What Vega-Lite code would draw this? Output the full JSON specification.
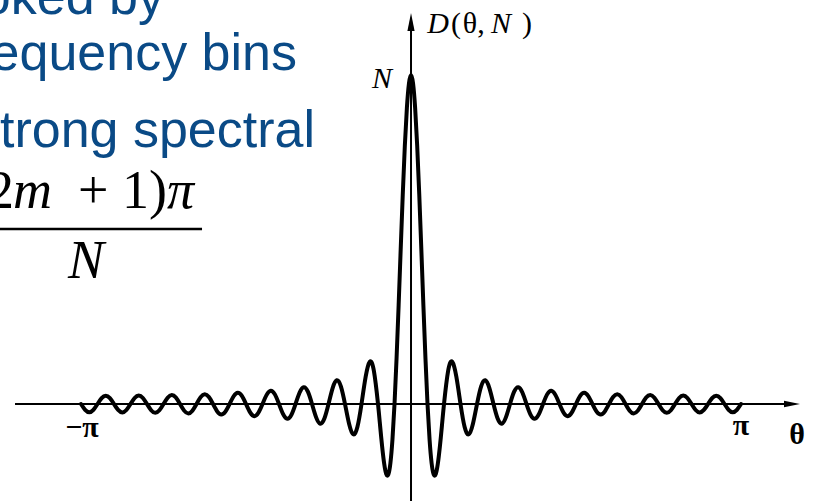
{
"$schema": "https://vega.github.io/schema/vega-lite/v6.json",
"width": 814, "height": 501,
"autosize": {"type": "none"},
"padding": 0,
"background": "white",
"config": {"view": {"stroke": null}},
"datasets": {
"curve": [
{"t":-1,"v":0},{"t":-0.9875,"v":-0.707},{"t":-0.975,"v":-1.001},{"t":-0.9625,"v":-0.708},{"t":-0.95,"v":0},{"t":-0.9375,"v":0.711},{"t":-0.925,"v":1.007},{"t":-0.9125,"v":0.714},
{"t":-0.9,"v":0},{"t":-0.8875,"v":-0.718},{"t":-0.875,"v":-1.02},{"t":-0.8625,"v":-0.724},{"t":-0.85,"v":0},{"t":-0.8375,"v":0.731},{"t":-0.825,"v":1.039},{"t":-0.8125,"v":0.739},
{"t":-0.8,"v":0},{"t":-0.7875,"v":-0.748},{"t":-0.775,"v":-1.066},{"t":-0.7625,"v":-0.759},{"t":-0.75,"v":0},{"t":-0.7375,"v":0.772},{"t":-0.725,"v":1.101},{"t":-0.7125,"v":0.786},
{"t":-0.7,"v":0},{"t":-0.6875,"v":-0.802},{"t":-0.675,"v":-1.146},{"t":-0.6625,"v":-0.82},{"t":-0.65,"v":0},{"t":-0.6375,"v":0.84},{"t":-0.625,"v":1.203},{"t":-0.6125,"v":0.862},
{"t":-0.6,"v":0},{"t":-0.5875,"v":-0.887},{"t":-0.575,"v":-1.273},{"t":-0.5625,"v":-0.915},{"t":-0.55,"v":0},{"t":-0.5375,"v":0.946},{"t":-0.525,"v":1.362},{"t":-0.5125,"v":0.981},
{"t":-0.5,"v":0},{"t":-0.4875,"v":-1.02},{"t":-0.475,"v":-1.473},{"t":-0.4625,"v":-1.065},{"t":-0.45,"v":0},{"t":-0.4375,"v":1.115},{"t":-0.425,"v":1.615},{"t":-0.4125,"v":1.172},
{"t":-0.4,"v":0},{"t":-0.3875,"v":-1.237},{"t":-0.375,"v":-1.8},{"t":-0.3625,"v":-1.312},{"t":-0.35,"v":0},{"t":-0.3375,"v":1.398},{"t":-0.325,"v":2.047},{"t":-0.3125,"v":1.5},
{"t":-0.3,"v":0},{"t":-0.2875,"v":-1.62},{"t":-0.275,"v":-2.389},{"t":-0.2625,"v":-1.764},{"t":-0.25,"v":0},{"t":-0.2375,"v":1.94},{"t":-0.225,"v":2.889},{"t":-0.2125,"v":2.158},
{"t":-0.2,"v":0},{"t":-0.1875,"v":-2.436},{"t":-0.175,"v":-3.684},{"t":-0.1625,"v":-2.8},{"t":-0.15,"v":0},{"t":-0.1375,"v":3.299},{"t":-0.125,"v":5.126},{"t":-0.1125,"v":4.022},
{"t":-0.1,"v":0},{"t":-0.09375,"v":-2.608},{"t":-0.0875,"v":-5.161},{"t":-0.08125,"v":-7.259},{"t":-0.075,"v":-8.508},{"t":-0.06875,"v":-8.572},{"t":-0.0625,"v":-7.214},{"t":-0.05625,"v":-4.337},
{"t":-0.05,"v":0},{"t":-0.04375,"v":5.573},{"t":-0.0375,"v":12.01},{"t":-0.03125,"v":18.83},{"t":-0.025,"v":25.47},{"t":-0.01875,"v":31.37},{"t":-0.0125,"v":36.01},{"t":-0.00625,"v":38.98},
{"t":0,"v":40},
{"t":0.00625,"v":38.98},{"t":0.0125,"v":36.01},{"t":0.01875,"v":31.37},{"t":0.025,"v":25.47},{"t":0.03125,"v":18.83},{"t":0.0375,"v":12.01},{"t":0.04375,"v":5.573},{"t":0.05,"v":0},
{"t":0.05625,"v":-4.337},{"t":0.0625,"v":-7.214},{"t":0.06875,"v":-8.572},{"t":0.075,"v":-8.508},{"t":0.08125,"v":-7.259},{"t":0.0875,"v":-5.161},{"t":0.09375,"v":-2.608},{"t":0.1,"v":0},
{"t":0.1125,"v":4.022},{"t":0.125,"v":5.126},{"t":0.1375,"v":3.299},{"t":0.15,"v":0},{"t":0.1625,"v":-2.8},{"t":0.175,"v":-3.684},{"t":0.1875,"v":-2.436},{"t":0.2,"v":0},
{"t":0.2125,"v":2.158},{"t":0.225,"v":2.889},{"t":0.2375,"v":1.94},{"t":0.25,"v":0},{"t":0.2625,"v":-1.764},{"t":0.275,"v":-2.389},{"t":0.2875,"v":-1.62},{"t":0.3,"v":0},
{"t":0.3125,"v":1.5},{"t":0.325,"v":2.047},{"t":0.3375,"v":1.398},{"t":0.35,"v":0},{"t":0.3625,"v":-1.312},{"t":0.375,"v":-1.8},{"t":0.3875,"v":-1.237},{"t":0.4,"v":0},
{"t":0.4125,"v":1.172},{"t":0.425,"v":1.615},{"t":0.4375,"v":1.115},{"t":0.45,"v":0},{"t":0.4625,"v":-1.065},{"t":0.475,"v":-1.473},{"t":0.4875,"v":-1.02},{"t":0.5,"v":0},
{"t":0.5125,"v":0.981},{"t":0.525,"v":1.362},{"t":0.5375,"v":0.946},{"t":0.55,"v":0},{"t":0.5625,"v":-0.915},{"t":0.575,"v":-1.273},{"t":0.5875,"v":-0.887},{"t":0.6,"v":0},
{"t":0.6125,"v":0.862},{"t":0.625,"v":1.203},{"t":0.6375,"v":0.84},{"t":0.65,"v":0},{"t":0.6625,"v":-0.82},{"t":0.675,"v":-1.146},{"t":0.6875,"v":-0.802},{"t":0.7,"v":0},
{"t":0.7125,"v":0.786},{"t":0.725,"v":1.101},{"t":0.7375,"v":0.772},{"t":0.75,"v":0},{"t":0.7625,"v":-0.759},{"t":0.775,"v":-1.066},{"t":0.7875,"v":-0.748},{"t":0.8,"v":0},
{"t":0.8125,"v":0.739},{"t":0.825,"v":1.039},{"t":0.8375,"v":0.731},{"t":0.85,"v":0},{"t":0.8625,"v":-0.724},{"t":0.875,"v":-1.02},{"t":0.8875,"v":-0.718},{"t":0.9,"v":0},
{"t":0.9125,"v":0.714},{"t":0.925,"v":1.007},{"t":0.9375,"v":0.711},{"t":0.95,"v":0},{"t":0.9625,"v":-0.708},{"t":0.975,"v":-1.001},{"t":0.9875,"v":-0.707},{"t":1,"v":0}
],
"haxis": [{"t":-1.2,"t2":1.16,"v":0}],
"vaxis": [{"t":0,"v":-11.79,"v2":46.2}],
"arrowRight": [{"t":1.1545,"v":0}],
"arrowUp": [{"t":0,"v":46.44}],
"fracbar": [{"t":-1.3,"t2":-0.6333,"v":21.28}],
"blue": [
{"t":-0.7485,"v":47.42,"label":"oked by"},
{"t":-0.3455,"v":40.61,"label":"frequency bins"},
{"t":-0.2909,"v":31.25,"label":"strong spectral"}
],
"formulaUp": [
{"t":-1.203,"v":23.83,"label":"(2"},
{"t":-0.7394,"v":23.83,"label":"+ 1)"}
],
"formulaIt": [
{"t":-1.0879,"v":23.83,"label":"m"},
{"t":-0.6576,"v":23.83,"label":"π"},
{"t":-0.9303,"v":15.32,"label":"N"}
],
"axisBold": [
{"t":-0.997,"v":-4.01,"label":"−π"},
{"t":1.0,"v":-3.77,"label":"π"},
{"t":1.1697,"v":-4.86,"label":"θ"}
],
"labIt": [
{"t":-0.0879,"v":38.42,"label":"N"},
{"t":0.0818,"v":45.11,"label":"D"},
{"t":0.2727,"v":45.11,"label":"N"}
],
"labUp": [
{"t":0.1364,"v":45.11,"label":"("},
{"t":0.1788,"v":45.11,"label":"θ"},
{"t":0.2121,"v":45.11,"label":","},
{"t":0.3515,"v":45.11,"label":")"}
]
},
"encoding": {
"x": {"field": "t", "type": "quantitative", "scale": {"domain": [-1.2455, 1.2212], "nice": false, "zero": false}, "axis": null},
"y": {"field": "v", "type": "quantitative", "scale": {"domain": [-11.79, 49.12], "nice": false, "zero": false}, "axis": null}
},
"layer": [
{"data": {"name": "haxis"}, "mark": {"type": "rule", "color": "black", "strokeWidth": 2, "clip": true}, "encoding": {"x2": {"field": "t2"}}},
{"data": {"name": "vaxis"}, "mark": {"type": "rule", "color": "black", "strokeWidth": 2, "clip": true}, "encoding": {"y2": {"field": "v2"}}},
{"data": {"name": "arrowRight"}, "mark": {"type": "point", "shape": "M1,0L-1,-0.4L-1,0.4Z", "size": 256, "filled": true, "color": "black", "opacity": 1, "strokeWidth": 0}},
{"data": {"name": "arrowUp"}, "mark": {"type": "point", "shape": "M0,-1L0.4,1L-0.4,1Z", "size": 324, "filled": true, "color": "black", "opacity": 1, "strokeWidth": 0}},
{"data": {"name": "curve"}, "mark": {"type": "line", "color": "black", "strokeWidth": 4, "interpolate": "natural", "strokeJoin": "round", "strokeCap": "round", "clip": true}},
{"data": {"name": "fracbar"}, "mark": {"type": "rule", "color": "black", "strokeWidth": 2.5, "clip": true}, "encoding": {"x2": {"field": "t2"}}},
{"data": {"name": "blue"}, "mark": {"type": "text", "font": "Liberation Sans", "fontSize": 52, "color": "#0A4A86", "align": "right", "baseline": "alphabetic", "clip": true}, "encoding": {"text": {"field": "label"}}},
{"data": {"name": "formulaUp"}, "mark": {"type": "text", "font": "Liberation Serif", "fontSize": 54, "color": "black", "align": "right", "baseline": "alphabetic", "clip": true}, "encoding": {"text": {"field": "label"}}},
{"data": {"name": "formulaIt"}, "mark": {"type": "text", "font": "Liberation Serif", "fontStyle": "italic", "fontSize": 54, "color": "black", "align": "right", "baseline": "alphabetic", "clip": true}, "encoding": {"text": {"field": "label"}}},
{"data": {"name": "axisBold"}, "mark": {"type": "text", "font": "Liberation Serif", "fontWeight": "bold", "fontSize": 30, "color": "black", "align": "center", "baseline": "alphabetic"}, "encoding": {"text": {"field": "label"}}},
{"data": {"name": "labIt"}, "mark": {"type": "text", "font": "Liberation Serif", "fontStyle": "italic", "fontSize": 30, "color": "black", "align": "center", "baseline": "alphabetic"}, "encoding": {"text": {"field": "label"}}},
{"data": {"name": "labUp"}, "mark": {"type": "text", "font": "Liberation Serif", "fontSize": 30, "color": "black", "align": "center", "baseline": "alphabetic"}, "encoding": {"text": {"field": "label"}}}
]
}
